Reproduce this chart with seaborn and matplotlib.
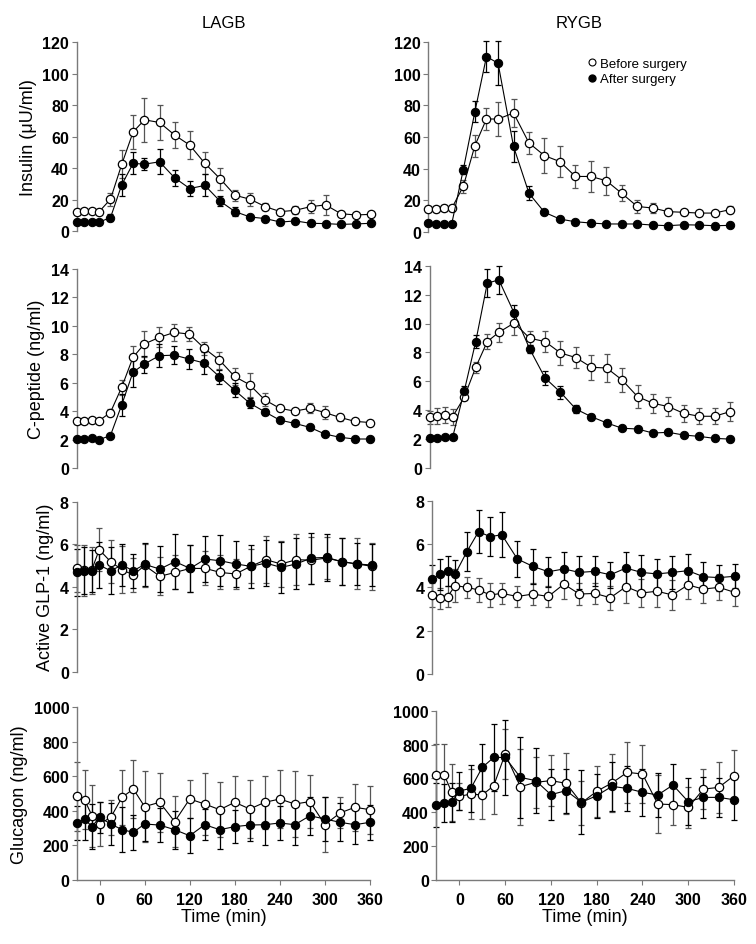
import numpy as np
import pandas as pd
import seaborn as sns
import matplotlib.pyplot as plt
from matplotlib.lines import Line2D

sns.set_style("ticks")
plt.rcParams['font.family'] = ['Liberation Sans', 'DejaVu Sans']
plt.rcParams['text.color'] = 'black'
plt.rcParams['axes.labelcolor'] = 'black'
plt.rcParams['xtick.labelcolor'] = 'black'
plt.rcParams['ytick.labelcolor'] = 'black'

time = [-30, -20, -10, 0, 15, 30, 45, 60, 80, 100, 120, 140, 160, 180,
        200, 220, 240, 260, 280, 300, 320, 340, 360]

# LAGB
lagb_ins_pre = [12.3, 12.7, 12.7, 12.3, 20.2, 42.5, 63, 70.7, 69, 61, 54.6, 43, 33.3,
                22.7, 20.2, 15.5, 12.3, 13.2, 15.5, 16.6, 11, 10.2, 10.6]
lagb_ins_pre_se = [1.5, 1.5, 1.5, 1.5, 4, 9, 11, 14, 11, 8, 9, 7, 7,
                   3.5, 4, 2, 1.5, 2.5, 4, 6.5, 1.5, 1, 1]
lagb_ins_post = [5.7, 5.7, 5.7, 5.7, 8.5, 29.5, 43, 42.5, 44, 33.8, 27, 29, 19,
                 12.3, 8.9, 7.9, 5.7, 6.4, 4.9, 4.7, 4.2, 4.5, 4.9]
lagb_ins_post_se = [1, 1, 1, 1, 2, 7, 7, 4, 8, 5, 4.5, 7, 3,
                    3, 1.5, 1, 1, 1, 1, 1, 1, 1, 1]

lagb_cp_pre = [3.28, 3.33, 3.4, 3.33, 3.9, 5.67, 7.78, 8.72, 9.19, 9.54, 9.42, 8.41,
               7.59, 6.44, 5.86, 4.8, 4.2, 4.0, 4.2, 3.9, 3.56, 3.28, 3.2]
lagb_cp_pre_se = [0.15, 0.15, 0.15, 0.15, 0.25, 0.5, 0.8, 0.9, 0.7, 0.6, 0.5, 0.45,
                  0.6, 0.6, 0.85, 0.45, 0.15, 0.15, 0.35, 0.45, 0.25, 0.15, 0.15]
lagb_cp_post = [2.04, 2.04, 2.09, 2.0, 2.27, 4.43, 6.73, 7.31, 7.9, 7.94, 7.66, 7.38,
                6.42, 5.48, 4.57, 3.96, 3.37, 3.14, 2.86, 2.39, 2.16, 2.04, 2.04]
lagb_cp_post_se = [0.05, 0.05, 0.05, 0.05, 0.1, 0.8, 1.0, 0.6, 0.8, 0.65, 0.7, 0.8,
                   0.5, 0.5, 0.35, 0.2, 0.1, 0.1, 0.1, 0.1, 0.1, 0.1, 0.1]

lagb_glp_pre = [4.86, 4.78, 4.78, 5.74, 5.18, 4.8, 4.55, 5.0, 4.49, 4.67, 4.86, 4.86,
                4.67, 4.6, 4.96, 5.27, 5.07, 5.27, 5.25, 5.35, 5.18, 5.07, 4.96]
lagb_glp_pre_se = [1.1, 1.2, 1.1, 1.0, 1.0, 1.1, 0.8, 1.0, 0.9, 0.8, 1.1, 0.8,
                   0.8, 0.7, 0.8, 1.1, 1.1, 1.2, 1.1, 1.0, 1.1, 1.2, 1.1]
lagb_glp_post = [4.67, 4.75, 4.75, 5.02, 4.75, 5.02, 4.75, 5.05, 4.83, 5.18, 4.86, 5.3,
                 5.22, 5.07, 4.96, 5.11, 4.91, 5.07, 5.35, 5.38, 5.18, 5.07, 5.02]
lagb_glp_post_se = [1.1, 1.1, 1.0, 1.1, 1.1, 1.0, 0.8, 1.0, 1.1, 1.3, 1.1, 1.1,
                    1.2, 1.1, 1.0, 1.1, 1.2, 1.2, 1.2, 1.1, 1.1, 1.0, 1.0]

lagb_glu_pre = [483, 464, 371, 323, 362, 478, 526, 424, 449, 337, 468, 439,
                406, 449, 410, 449, 468, 439, 453, 319, 387, 420, 406]
lagb_glu_pre_se = [200, 170, 180, 130, 100, 160, 170, 205, 170, 150, 110, 180,
                   160, 155, 170, 155, 170, 190, 155, 160, 90, 135, 140]
lagb_glu_post = [329, 352, 308, 362, 323, 290, 275, 323, 317, 290, 255, 319,
                 290, 308, 317, 319, 329, 319, 371, 352, 333, 319, 333]
lagb_glu_post_se = [100, 120, 130, 90, 120, 130, 100, 100, 100, 110, 100, 90,
                    110, 95, 90, 120, 100, 120, 110, 130, 110, 110, 100]

# RYGB
rygb_ins_pre = [14.4, 14.4, 14.8, 14.8, 28.7, 54.5, 71.4, 71.4, 75.2, 56.2, 48.2, 44.4,
                35, 35, 32.3, 24.3, 16, 15, 12.7, 12.3, 11.8, 11.8, 14]
rygb_ins_pre_se = [2, 2, 2, 2, 4, 7, 7, 10.5, 9, 7, 11, 10,
                   7.5, 10, 9, 5, 4, 3, 2, 1.5, 1, 1.5, 2]
rygb_ins_post = [5.3, 4.9, 4.9, 4.9, 39.3, 76, 111, 106.7, 54, 24.3, 12.3, 8,
                 6.3, 5.5, 4.9, 4.9, 4.9, 4.2, 3.8, 4.4, 4.2, 3.8, 4]
rygb_ins_post_se = [1, 1, 1, 1, 3, 6.5, 10, 14, 10, 4.5, 1, 1,
                    1, 1, 1, 1, 1, 1, 1, 1, 1, 1, 1]

rygb_cp_pre = [3.5, 3.62, 3.69, 3.55, 4.89, 6.97, 8.75, 9.39, 10.04, 8.98, 8.75, 7.96,
               7.64, 6.97, 6.92, 6.09, 4.94, 4.48, 4.25, 3.78, 3.58, 3.58, 3.9]
rygb_cp_pre_se = [0.45, 0.55, 0.55, 0.55, 0.2, 0.4, 0.5, 0.65, 0.85, 0.5, 0.75, 0.8,
                  0.75, 0.85, 1.0, 0.85, 0.8, 0.65, 0.65, 0.6, 0.55, 0.55, 0.65]
rygb_cp_post = [2.08, 2.05, 2.12, 2.12, 5.31, 8.75, 12.79, 13.02, 10.71, 8.24, 6.23, 5.24,
                4.08, 3.55, 3.12, 2.75, 2.7, 2.42, 2.47, 2.28, 2.19, 2.05, 2.0]
rygb_cp_post_se = [0.05, 0.05, 0.05, 0.05, 0.35, 0.45, 0.95, 0.95, 0.6, 0.3, 0.5, 0.45,
                   0.25, 0.2, 0.15, 0.1, 0.1, 0.1, 0.1, 0.1, 0.1, 0.1, 0.1]

rygb_glp_pre = [3.65, 3.49, 3.57, 4.08, 4.0, 3.88, 3.65, 3.72, 3.58, 3.69, 3.58, 4.15,
                3.69, 3.72, 3.52, 4.03, 3.74, 3.82, 3.65, 4.11, 3.92, 4.0, 3.77]
rygb_glp_pre_se = [0.55, 0.5, 0.5, 0.75, 0.5, 0.55, 0.55, 0.5, 0.5, 0.5, 0.5, 0.7,
                   0.5, 0.5, 0.55, 0.75, 0.65, 0.75, 0.7, 0.65, 0.65, 0.6, 0.65]
rygb_glp_post = [4.38, 4.6, 4.74, 4.62, 5.65, 6.57, 6.34, 6.43, 5.31, 4.97, 4.72, 4.85,
                 4.69, 4.74, 4.58, 4.89, 4.69, 4.62, 4.69, 4.77, 4.49, 4.45, 4.51]
rygb_glp_post_se = [0.65, 0.7, 0.7, 0.65, 0.9, 1.0, 0.9, 1.05, 0.85, 0.8, 0.7, 0.8,
                    0.75, 0.7, 0.6, 0.75, 0.8, 0.7, 0.75, 0.75, 0.7, 0.6, 0.55]

rygb_glu_pre = [622, 622, 518, 494, 508, 502, 557, 744, 551, 577, 587, 571,
                455, 524, 573, 636, 626, 449, 445, 429, 537, 547, 616]
rygb_glu_pre_se = [180, 180, 170, 80, 150, 140, 170, 150, 225, 150, 150, 180,
                   130, 150, 170, 180, 170, 170, 120, 120, 120, 150, 150]
rygb_glu_post = [443, 455, 459, 526, 541, 665, 724, 724, 606, 587, 504, 528,
                 459, 498, 553, 541, 518, 502, 561, 463, 488, 488, 474]
rygb_glu_post_se = [130, 110, 115, 110, 140, 140, 200, 220, 240, 190, 150, 130,
                    190, 130, 145, 135, 140, 130, 125, 140, 120, 115, 120]

ylabels = ["Insulin (\u03bcU/ml)", "C-peptide (ng/ml)", "Active GLP-1 (ng/ml)", "Glucagon (ng/ml)"]
ymax = [120, 14, 8, 1000]
ystep = [20, 2, 2, 200]
xticks = [0, 60, 120, 180, 240, 300, 360]

panels = [
    [(lagb_ins_pre, lagb_ins_pre_se, lagb_ins_post, lagb_ins_post_se),
     (rygb_ins_pre, rygb_ins_pre_se, rygb_ins_post, rygb_ins_post_se)],
    [(lagb_cp_pre, lagb_cp_pre_se, lagb_cp_post, lagb_cp_post_se),
     (rygb_cp_pre, rygb_cp_pre_se, rygb_cp_post, rygb_cp_post_se)],
    [(lagb_glp_pre, lagb_glp_pre_se, lagb_glp_post, lagb_glp_post_se),
     (rygb_glp_pre, rygb_glp_pre_se, rygb_glp_post, rygb_glp_post_se)],
    [(lagb_glu_pre, lagb_glu_pre_se, lagb_glu_post, lagb_glu_post_se),
     (rygb_glu_pre, rygb_glu_pre_se, rygb_glu_post, rygb_glu_post_se)],
]

# panel boxes in pixels: (left, top, right, bottom)
W, H = 756, 945
boxes = [
    [(76.5, 43.3, 371, 232), (428.5, 43.3, 730, 232.7)],
    [(76.5, 270, 370, 469), (429.5, 266.7, 730, 469)],
    [(76.5, 502.7, 372, 672.7), (432, 501.7, 734.5, 675)],
    [(77, 708.3, 370, 880.7), (436.5, 711.7, 734, 881)],
]

fig = plt.figure(figsize=(7.56, 9.45), dpi=100)
spine_col = "#7a7a7a"

for r in range(4):
    for c in range(2):
        l, t, rr, b = boxes[r][c]
        ax = fig.add_axes([l / W, 1 - b / H, (rr - l) / W, (b - t) / H])
        pre, pre_se, post, post_se = panels[r][c]
        df = pd.DataFrame({"Time": time, "pre": pre, "post": post})

        ax.errorbar(time, pre, yerr=pre_se, fmt="none", ecolor="#555555",
                    elinewidth=0.9, capsize=2, capthick=0.9, clip_on=False, zorder=2)
        ax.errorbar(time, post, yerr=post_se, fmt="none", ecolor="black",
                    elinewidth=0.9, capsize=2, capthick=0.9, clip_on=False, zorder=2)
        sns.lineplot(data=df, x="Time", y="pre", ax=ax, color="black", lw=0.8,
                     marker="o", markersize=6, markerfacecolor="white",
                     markeredgecolor="black", markeredgewidth=0.9, clip_on=False, zorder=3)
        sns.lineplot(data=df, x="Time", y="post", ax=ax, color="black", lw=0.8,
                     marker="o", markersize=6, markerfacecolor="black",
                     markeredgecolor="black", clip_on=False, zorder=4)

        ax.set_xlim(-30, 360)
        ax.set_ylim(0, ymax[r])
        yt = list(range(0, ymax[r] + 1, ystep[r]))
        ax.set_yticks(yt, labels=[str(v) for v in yt], fontweight="bold", fontsize=11.5)
        sns.despine(ax=ax, top=True, right=True, bottom=(r < 3))
        for s in ["left", "bottom"]:
            ax.spines[s].set_color(spine_col)
            ax.spines[s].set_linewidth(1.0)
        ax.tick_params(axis="both", direction="out", length=3.5, width=0.8,
                       color=spine_col, labelcolor="black", pad=2)
        if r < 3:
            ax.set_xticks([])
            ax.set_xlabel("")
        else:
            ax.set_xticks(xticks, labels=[str(v) for v in xticks],
                          fontweight="bold", fontsize=11.5)
            ax.tick_params(axis="x", pad=5)
            ax.set_xlabel("Time (min)", fontsize=13, labelpad=1, color="black")
        if c == 0:
            ax.set_ylabel(ylabels[r], fontsize=13, labelpad=4, color="black")
        else:
            ax.set_ylabel("")
        if r == 0:
            ax.set_title(["LAGB", "RYGB"][c], fontsize=12, pad=11, color="black")
        if r == 0 and c == 1:
            handles = [
                Line2D([], [], ls="none", marker="o", markersize=5, markerfacecolor="white",
                       markeredgecolor="black", markeredgewidth=0.8),
                Line2D([], [], ls="none", marker="o", markersize=5, markerfacecolor="black",
                       markeredgecolor="black"),
            ]
            ax.legend(handles, ["Before surgery", "After surgery"], frameon=False,
                      loc="upper left", bbox_to_anchor=(0.53, 0.92), fontsize=9.5,
                      handlelength=0.6, handletextpad=0.3, labelspacing=0.25,
                      borderpad=0, borderaxespad=0, labelcolor="black")

fig.savefig("out.png", dpi=100)
